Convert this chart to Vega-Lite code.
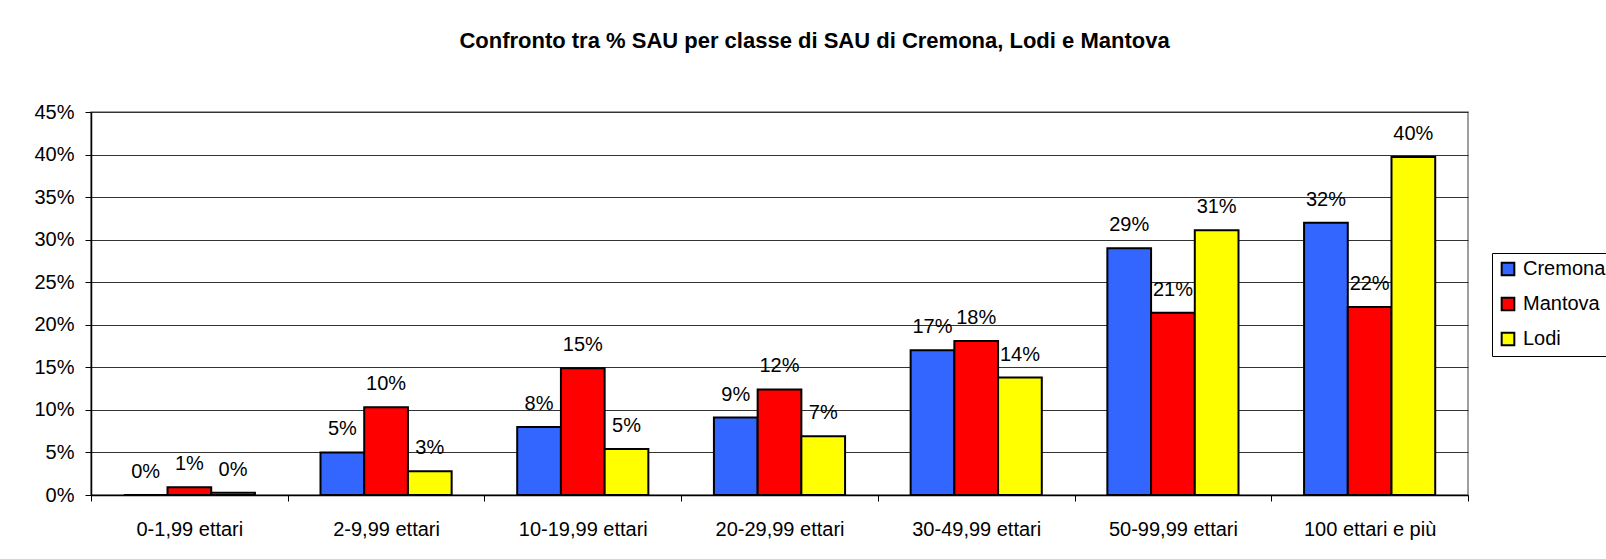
{
  "$schema": "https://vega.github.io/schema/vega-lite/v6.json",
  "width": 1377,
  "height": 383,
  "autosize": {"type": "none"},
  "padding": {"left": 91, "top": 112, "right": 138, "bottom": 64},
  "background": "white",
  "title": {"text": "Confronto tra % SAU per classe di SAU di Cremona, Lodi e Mantova", "font": "Liberation Sans", "fontSize": 22, "fontWeight": "bold", "color": "black", "anchor": "middle", "dx": 35, "offset": 49},
  "data": {"values": [
    {"classe": "0-1,99 ettari", "provincia": "Cremona", "valore": 0.0},
    {"classe": "0-1,99 ettari", "provincia": "Mantova", "valore": 0.009},
    {"classe": "0-1,99 ettari", "provincia": "Lodi", "valore": 0.0025},
    {"classe": "2-9,99 ettari", "provincia": "Cremona", "valore": 0.050},
    {"classe": "2-9,99 ettari", "provincia": "Mantova", "valore": 0.103},
    {"classe": "2-9,99 ettari", "provincia": "Lodi", "valore": 0.028},
    {"classe": "10-19,99 ettari", "provincia": "Cremona", "valore": 0.080},
    {"classe": "10-19,99 ettari", "provincia": "Mantova", "valore": 0.149},
    {"classe": "10-19,99 ettari", "provincia": "Lodi", "valore": 0.054},
    {"classe": "20-29,99 ettari", "provincia": "Cremona", "valore": 0.091},
    {"classe": "20-29,99 ettari", "provincia": "Mantova", "valore": 0.124},
    {"classe": "20-29,99 ettari", "provincia": "Lodi", "valore": 0.069},
    {"classe": "30-49,99 ettari", "provincia": "Cremona", "valore": 0.170},
    {"classe": "30-49,99 ettari", "provincia": "Mantova", "valore": 0.181},
    {"classe": "30-49,99 ettari", "provincia": "Lodi", "valore": 0.138},
    {"classe": "50-99,99 ettari", "provincia": "Cremona", "valore": 0.290},
    {"classe": "50-99,99 ettari", "provincia": "Mantova", "valore": 0.214},
    {"classe": "50-99,99 ettari", "provincia": "Lodi", "valore": 0.311},
    {"classe": "100 ettari e più", "provincia": "Cremona", "valore": 0.320},
    {"classe": "100 ettari e più", "provincia": "Mantova", "valore": 0.221},
    {"classe": "100 ettari e più", "provincia": "Lodi", "valore": 0.397}
  ]},
  "encoding": {
    "x": {"field": "classe", "type": "nominal",
      "sort": ["0-1,99 ettari", "2-9,99 ettari", "10-19,99 ettari", "20-29,99 ettari", "30-49,99 ettari", "50-99,99 ettari", "100 ettari e più"],
      "scale": {"paddingInner": 0, "paddingOuter": 0},
      "axis": {"title": null, "labelAngle": 0, "labelFont": "Liberation Sans", "labelFontSize": 20, "labelColor": "black", "labelPadding": 18, "domainColor": "black", "domainWidth": 1.5, "tickColor": "black", "tickSize": 6, "tickBand": "extent", "grid": false}},
    "xOffset": {"field": "provincia", "type": "nominal", "sort": ["Cremona", "Mantova", "Lodi"], "scale": {"paddingInner": 0, "paddingOuter": 0.75}},
    "y": {"field": "valore", "type": "quantitative",
      "scale": {"domain": [0, 0.45], "nice": false},
      "axis": {"title": null, "format": ".0%", "values": [0, 0.05, 0.1, 0.15, 0.2, 0.25, 0.3, 0.35, 0.4, 0.45], "labelFont": "Liberation Sans", "labelFontSize": 20, "labelColor": "black", "labelPadding": 11, "domainColor": "black", "domainWidth": 1.5, "tickColor": "black", "tickSize": 6, "grid": true, "gridColor": "#333333", "gridWidth": 1}}
  },
  "layer": [
    {"mark": {"type": "bar", "stroke": "black", "strokeWidth": 2},
     "encoding": {"color": {"field": "provincia", "type": "nominal", "sort": ["Cremona", "Mantova", "Lodi"],
       "scale": {"domain": ["Cremona", "Mantova", "Lodi"], "range": ["#3366FF", "#FF0000", "#FFFF00"]},
       "legend": {"title": null, "orient": "none", "legendX": 1401, "legendY": 141, "strokeColor": "black", "fillColor": "white", "padding": 6, "labelFont": "Liberation Sans", "labelFontSize": 20, "labelColor": "black", "symbolType": "square", "symbolSize": 160, "symbolStrokeColor": "black", "symbolStrokeWidth": 2, "symbolOpacity": 1, "rowPadding": 13, "labelOffset": 5}}}},
    {"mark": {"type": "text", "baseline": "alphabetic", "dy": -17, "font": "Liberation Sans", "fontSize": 20, "color": "black"},
     "encoding": {"text": {"field": "valore", "type": "quantitative", "format": ".0%"}}}
  ],
  "config": {"view": {"stroke": "#808080", "strokeWidth": 1.5}}
}
